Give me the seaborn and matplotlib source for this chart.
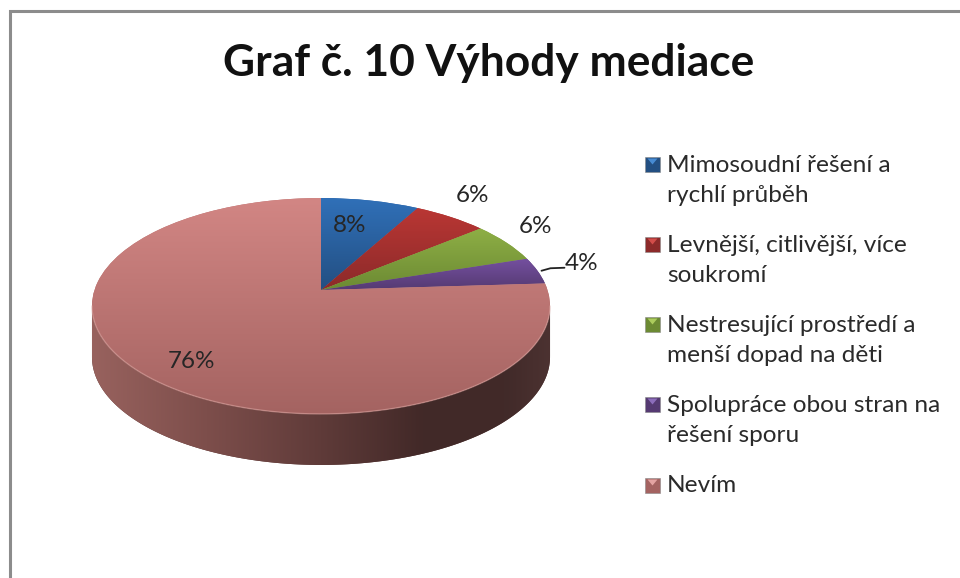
import numpy as np
import matplotlib
matplotlib.use("Agg")
import matplotlib.pyplot as plt
from matplotlib.colors import LinearSegmentedColormap
from matplotlib.patches import Polygon, Rectangle
from matplotlib.path import Path
from matplotlib.transforms import Transform
import seaborn as sns

title = "Graf č. 10 Výhody mediace"
categories = ["Mimosoudní řešení a\nrychlí průběh",
              "Levnější, citlivější, více\nsoukromí",
              "Nestresující prostředí a\nmenší dopad na děti",
              "Spolupráce obou stran na\nřešení sporu",
              "Nevím"]
values = [8, 6, 6, 4, 76]
base_colors = ["#2b62a4", "#a82e2e", "#7f9f3c", "#62457f", "#b97371"]
top_colors = ["#3070b8", "#bb3734", "#8fb046", "#7550a0", "#d28684"]
bottom_colors = ["#234f82", "#8c2a2a", "#6c8a33", "#553a72", "#a46361"]
marker_tops = ["#4a8fd8", "#d8504c", "#b0d060", "#9070c0", "#e8a8a6"]

sns.set_theme(style="white")
plt.rcParams["font.family"] = ["Lato", "DejaVu Sans"]

CX, CY = 321.0, 290.0      # pie apex in pixels
A, B, C = 0.148, 105.6, 226.5
DEPTH = 51.0


class Perspective(Transform):
    """Tilted-disc view of the unit pie, in pixel coordinates."""
    input_dims = output_dims = 2
    is_affine = False
    has_inverse = False

    def transform_non_affine(self, xy):
        xy = np.asarray(xy, float)
        w = 1 + A * xy[:, 1]
        return np.column_stack([CX + C * xy[:, 0] / w, CY - B * xy[:, 1] / w])

    def transform_path_non_affine(self, path):
        return Path(self.transform_non_affine(path.vertices), path.codes)


persp = Perspective()

fig = plt.figure(figsize=(9.6, 5.78), dpi=100, facecolor="white")
ax = fig.add_axes([0, 0, 1, 1])

# Lower rim: from the right extreme through the bottom to the left extreme
t = np.linspace(-np.arcsin(A), -np.pi + np.arcsin(A), 240)
rim = persp.transform_non_affine(np.column_stack([np.cos(t), np.sin(t)]))
side = np.vstack([rim, (rim + [0, DEPTH])[::-1]])

# Pie drawn by the library, then re-projected
wedges, _ = ax.pie(values, colors=sns.color_palette(base_colors), startangle=90,
                   counterclock=False, radius=1, frame=False,
                   wedgeprops={"linewidth": 0, "zorder": 3})
for w in wedges:
    w.set_transform(persp + ax.transData)

side_patch = Polygon(side, closed=True, facecolor="#5a3836", edgecolor="none", zorder=2)
ax.add_patch(side_patch)
side_cmap = LinearSegmentedColormap.from_list(
    "side", [(0.0, "#98625e"), (0.25, "#7d4e4b"), (0.5, "#5f3b39"),
             (0.72, "#422928"), (0.9, "#412a29"), (1.0, "#4c3231")])
img = ax.imshow(np.linspace(0, 1, 256)[None, :], cmap=side_cmap, aspect="auto",
                extent=[rim[:, 0].min(), rim[:, 0].max(), 480, 290], zorder=2.1,
                interpolation="bilinear")
img.set_clip_path(side_patch)

# Vertical shading of every slice
spans = [(198, 290), (205, 290), (226, 290), (258, 290), (198, 415)]
for w, top, bot, (y0, y1) in zip(wedges, top_colors, bottom_colors, spans):
    cm = LinearSegmentedColormap.from_list("g", [top, bot])
    im = ax.imshow(np.linspace(0, 1, 128)[:, None], cmap=cm, aspect="auto",
                   extent=[80, 560, y1, y0], zorder=3.1, interpolation="bilinear")
    im.set_clip_path(w)

# Light rim on the front of the top face
ax.plot(rim[:, 0], rim[:, 1], color="#dfa9a5", lw=1.0, alpha=0.5, zorder=3.2)

# Percent labels, placed relative to each slice's rim point
offsets = [(-21, 25), (21.5, -21), (29, -16.5), (44, -7), (44, -15)]
cum = np.cumsum([0] + values)
for i, (v, (dx, dy)) in enumerate(zip(values, offsets)):
    a = np.radians(3.6 * (cum[i] + v / 2))
    px, py = persp.transform_non_affine(np.array([[np.sin(a), np.cos(a)]]))[0]
    ax.text(px + dx, py + dy, f"{v}%", ha="center", va="center",
            fontsize=17.5, color="#262626", zorder=5)
    if v == 4:
        ax.plot([px + 4, px + 13, px + 27], [py, py - 2.5, py - 3],
                color="#222222", lw=1.3, zorder=5)

# Legend
ys = [164.5, 244.5, 324.5, 404.5, 485.5]
for lab, y, top, bot in zip(categories, ys, marker_tops, bottom_colors):
    ax.add_patch(Rectangle((645, y - 7.5), 15, 15, facecolor=bot, edgecolor="#8a8a8a",
                           lw=0.4, zorder=4))
    ax.add_patch(Polygon([(647.5, y - 6), (657.5, y - 6), (652.5, y)], closed=True,
                         facecolor=top, edgecolor="none", alpha=0.95, zorder=4.1))
    for j, line in enumerate(lab.split("\n")):
        ax.text(667, y + 0.5 + 31 * j, line, ha="left", va="center",
                fontsize=17.6, color="#2a2a2a", zorder=5)

ax.text(488.5, 63, title, ha="center", va="center", fontsize=31.9,
        fontweight="bold", color="#111111", zorder=5)

# Outer frame, only top and left are visible
ax.plot([10, 10, 960], [578, 10.5, 10.5], color="#8c8c8c", lw=2.2,
        solid_joinstyle="miter", zorder=6)

ax.set_aspect("auto")
ax.set_xlim(0, 960)
ax.set_ylim(578, 0)
ax.axis("off")
fig.savefig("out.png", dpi=100, facecolor="white")
